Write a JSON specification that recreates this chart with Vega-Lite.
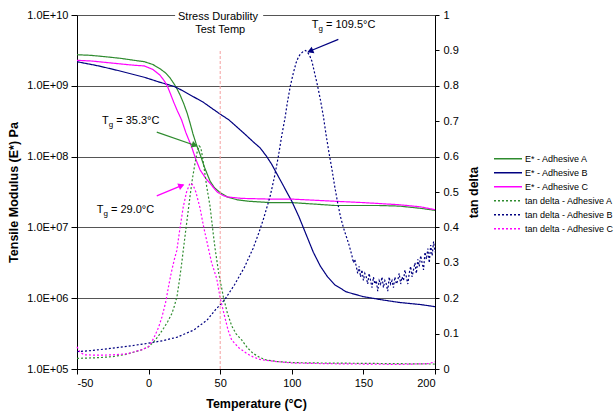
{
  "$schema": "https://vega.github.io/schema/vega-lite/v6.json",
  "width": 358,
  "height": 354,
  "autosize": "none",
  "padding": {"left": 77, "top": 15, "right": 181, "bottom": 46},
  "config": {
    "view": {"stroke": null},
    "font": "Liberation Sans",
    "axis": {"labelFontSize": 11, "titleFontSize": 12.5, "titleFontWeight": "bold", "labelColor": "#000", "titleColor": "#000", "domainColor": "#000", "tickColor": "#000", "grid": false, "labelOverlap": false},
    "text": {"fontSize": 11, "color": "#000"}
  },
  "datasets": {
    "emod": [
      {"series": "E* - Adhesive A", "temp": -50, "E": 2.75e9},
      {"series": "E* - Adhesive A", "temp": -40, "E": 2.69e9},
      {"series": "E* - Adhesive A", "temp": -30, "E": 2.57e9},
      {"series": "E* - Adhesive A", "temp": -20, "E": 2.45e9},
      {"series": "E* - Adhesive A", "temp": -10, "E": 2.29e9},
      {"series": "E* - Adhesive A", "temp": -3, "E": 2.19e9},
      {"series": "E* - Adhesive A", "temp": 3, "E": 2.0e9},
      {"series": "E* - Adhesive A", "temp": 8, "E": 1.74e9},
      {"series": "E* - Adhesive A", "temp": 12, "E": 1.51e9},
      {"series": "E* - Adhesive A", "temp": 15, "E": 1.29e9},
      {"series": "E* - Adhesive A", "temp": 18, "E": 1.05e9},
      {"series": "E* - Adhesive A", "temp": 20, "E": 8.91e8},
      {"series": "E* - Adhesive A", "temp": 22, "E": 7.41e8},
      {"series": "E* - Adhesive A", "temp": 24.5, "E": 5.62e8},
      {"series": "E* - Adhesive A", "temp": 27, "E": 4.07e8},
      {"series": "E* - Adhesive A", "temp": 29, "E": 2.95e8},
      {"series": "E* - Adhesive A", "temp": 31, "E": 2.09e8},
      {"series": "E* - Adhesive A", "temp": 33.5, "E": 1.45e8},
      {"series": "E* - Adhesive A", "temp": 36, "E": 1.07e8},
      {"series": "E* - Adhesive A", "temp": 39, "E": 7.08e7},
      {"series": "E* - Adhesive A", "temp": 43, "E": 4.47e7},
      {"series": "E* - Adhesive A", "temp": 46, "E": 3.63e7},
      {"series": "E* - Adhesive A", "temp": 50, "E": 3.09e7},
      {"series": "E* - Adhesive A", "temp": 55, "E": 2.69e7},
      {"series": "E* - Adhesive A", "temp": 62, "E": 2.45e7},
      {"series": "E* - Adhesive A", "temp": 70, "E": 2.34e7},
      {"series": "E* - Adhesive A", "temp": 85, "E": 2.24e7},
      {"series": "E* - Adhesive A", "temp": 100, "E": 2.24e7},
      {"series": "E* - Adhesive A", "temp": 115, "E": 2.14e7},
      {"series": "E* - Adhesive A", "temp": 130, "E": 2.04e7},
      {"series": "E* - Adhesive A", "temp": 145, "E": 2.04e7},
      {"series": "E* - Adhesive A", "temp": 160, "E": 2.04e7},
      {"series": "E* - Adhesive A", "temp": 175, "E": 2.0e7},
      {"series": "E* - Adhesive A", "temp": 190, "E": 1.86e7},
      {"series": "E* - Adhesive A", "temp": 200, "E": 1.74e7},
      {"series": "E* - Adhesive B", "temp": -50, "E": 2.19e9},
      {"series": "E* - Adhesive B", "temp": -35, "E": 1.91e9},
      {"series": "E* - Adhesive B", "temp": -20, "E": 1.62e9},
      {"series": "E* - Adhesive B", "temp": -3, "E": 1.32e9},
      {"series": "E* - Adhesive B", "temp": 8, "E": 1.12e9},
      {"series": "E* - Adhesive B", "temp": 18, "E": 9.77e8},
      {"series": "E* - Adhesive B", "temp": 22, "E": 8.91e8},
      {"series": "E* - Adhesive B", "temp": 30, "E": 7.24e8},
      {"series": "E* - Adhesive B", "temp": 38, "E": 5.89e8},
      {"series": "E* - Adhesive B", "temp": 45, "E": 4.68e8},
      {"series": "E* - Adhesive B", "temp": 50, "E": 3.98e8},
      {"series": "E* - Adhesive B", "temp": 56, "E": 3.31e8},
      {"series": "E* - Adhesive B", "temp": 66, "E": 2.19e8},
      {"series": "E* - Adhesive B", "temp": 73, "E": 1.62e8},
      {"series": "E* - Adhesive B", "temp": 78, "E": 1.32e8},
      {"series": "E* - Adhesive B", "temp": 82.5, "E": 1.0e8},
      {"series": "E* - Adhesive B", "temp": 86, "E": 7.76e7},
      {"series": "E* - Adhesive B", "temp": 89.5, "E": 5.75e7},
      {"series": "E* - Adhesive B", "temp": 93, "E": 4.27e7},
      {"series": "E* - Adhesive B", "temp": 97, "E": 3.02e7},
      {"series": "E* - Adhesive B", "temp": 100, "E": 2.34e7},
      {"series": "E* - Adhesive B", "temp": 105, "E": 1.41e7},
      {"series": "E* - Adhesive B", "temp": 110, "E": 7.94e6},
      {"series": "E* - Adhesive B", "temp": 115, "E": 4.47e6},
      {"series": "E* - Adhesive B", "temp": 120, "E": 2.82e6},
      {"series": "E* - Adhesive B", "temp": 125, "E": 2.0e6},
      {"series": "E* - Adhesive B", "temp": 130, "E": 1.55e6},
      {"series": "E* - Adhesive B", "temp": 138, "E": 1.23e6},
      {"series": "E* - Adhesive B", "temp": 150, "E": 1.05e6},
      {"series": "E* - Adhesive B", "temp": 162, "E": 9.55e5},
      {"series": "E* - Adhesive B", "temp": 175, "E": 8.71e5},
      {"series": "E* - Adhesive B", "temp": 190, "E": 8.13e5},
      {"series": "E* - Adhesive B", "temp": 200, "E": 7.59e5},
      {"series": "E* - Adhesive C", "temp": -50, "E": 2.29e9},
      {"series": "E* - Adhesive C", "temp": -40, "E": 2.24e9},
      {"series": "E* - Adhesive C", "temp": -30, "E": 2.14e9},
      {"series": "E* - Adhesive C", "temp": -20, "E": 2.04e9},
      {"series": "E* - Adhesive C", "temp": -10, "E": 1.95e9},
      {"series": "E* - Adhesive C", "temp": -3, "E": 1.91e9},
      {"series": "E* - Adhesive C", "temp": 3, "E": 1.70e9},
      {"series": "E* - Adhesive C", "temp": 8, "E": 1.41e9},
      {"series": "E* - Adhesive C", "temp": 11, "E": 1.17e9},
      {"series": "E* - Adhesive C", "temp": 13, "E": 1.0e9},
      {"series": "E* - Adhesive C", "temp": 15.2, "E": 7.76e8},
      {"series": "E* - Adhesive C", "temp": 17.5, "E": 5.89e8},
      {"series": "E* - Adhesive C", "temp": 20, "E": 4.47e8},
      {"series": "E* - Adhesive C", "temp": 23, "E": 3.31e8},
      {"series": "E* - Adhesive C", "temp": 26, "E": 2.19e8},
      {"series": "E* - Adhesive C", "temp": 30, "E": 1.38e8},
      {"series": "E* - Adhesive C", "temp": 33, "E": 9.12e7},
      {"series": "E* - Adhesive C", "temp": 36, "E": 6.46e7},
      {"series": "E* - Adhesive C", "temp": 40, "E": 4.90e7},
      {"series": "E* - Adhesive C", "temp": 45, "E": 3.72e7},
      {"series": "E* - Adhesive C", "temp": 48, "E": 3.16e7},
      {"series": "E* - Adhesive C", "temp": 52, "E": 2.82e7},
      {"series": "E* - Adhesive C", "temp": 55, "E": 2.69e7},
      {"series": "E* - Adhesive C", "temp": 65, "E": 2.57e7},
      {"series": "E* - Adhesive C", "temp": 85, "E": 2.51e7},
      {"series": "E* - Adhesive C", "temp": 100, "E": 2.51e7},
      {"series": "E* - Adhesive C", "temp": 130, "E": 2.34e7},
      {"series": "E* - Adhesive C", "temp": 150, "E": 2.24e7},
      {"series": "E* - Adhesive C", "temp": 175, "E": 2.09e7},
      {"series": "E* - Adhesive C", "temp": 190, "E": 1.95e7},
      {"series": "E* - Adhesive C", "temp": 200, "E": 1.78e7}
    ],
    "tand": [
      {"series": "tan delta  - Adhesive A", "temp": -50, "tan": 0.030},
      {"series": "tan delta  - Adhesive A", "temp": -35, "tan": 0.032},
      {"series": "tan delta  - Adhesive A", "temp": -25, "tan": 0.035},
      {"series": "tan delta  - Adhesive A", "temp": -15, "tan": 0.042},
      {"series": "tan delta  - Adhesive A", "temp": -5, "tan": 0.054},
      {"series": "tan delta  - Adhesive A", "temp": 0, "tan": 0.063},
      {"series": "tan delta  - Adhesive A", "temp": 3.6, "tan": 0.077},
      {"series": "tan delta  - Adhesive A", "temp": 7, "tan": 0.094},
      {"series": "tan delta  - Adhesive A", "temp": 10.5, "tan": 0.115},
      {"series": "tan delta  - Adhesive A", "temp": 13.5, "tan": 0.135},
      {"series": "tan delta  - Adhesive A", "temp": 16.3, "tan": 0.157},
      {"series": "tan delta  - Adhesive A", "temp": 18, "tan": 0.178},
      {"series": "tan delta  - Adhesive A", "temp": 19.8, "tan": 0.204},
      {"series": "tan delta  - Adhesive A", "temp": 21.5, "tan": 0.25},
      {"series": "tan delta  - Adhesive A", "temp": 23, "tan": 0.295},
      {"series": "tan delta  - Adhesive A", "temp": 24.5, "tan": 0.345},
      {"series": "tan delta  - Adhesive A", "temp": 26.5, "tan": 0.41},
      {"series": "tan delta  - Adhesive A", "temp": 28.9, "tan": 0.487},
      {"series": "tan delta  - Adhesive A", "temp": 30.5, "tan": 0.535},
      {"series": "tan delta  - Adhesive A", "temp": 32.4, "tan": 0.581},
      {"series": "tan delta  - Adhesive A", "temp": 34, "tan": 0.615},
      {"series": "tan delta  - Adhesive A", "temp": 35.3, "tan": 0.63},
      {"series": "tan delta  - Adhesive A", "temp": 36.5, "tan": 0.625},
      {"series": "tan delta  - Adhesive A", "temp": 38, "tan": 0.59},
      {"series": "tan delta  - Adhesive A", "temp": 40.6, "tan": 0.515},
      {"series": "tan delta  - Adhesive A", "temp": 42.9, "tan": 0.46},
      {"series": "tan delta  - Adhesive A", "temp": 45.2, "tan": 0.38},
      {"series": "tan delta  - Adhesive A", "temp": 46.4, "tan": 0.341},
      {"series": "tan delta  - Adhesive A", "temp": 49, "tan": 0.27},
      {"series": "tan delta  - Adhesive A", "temp": 52.2, "tan": 0.204},
      {"series": "tan delta  - Adhesive A", "temp": 55, "tan": 0.158},
      {"series": "tan delta  - Adhesive A", "temp": 58, "tan": 0.122},
      {"series": "tan delta  - Adhesive A", "temp": 61, "tan": 0.1},
      {"series": "tan delta  - Adhesive A", "temp": 65, "tan": 0.082},
      {"series": "tan delta  - Adhesive A", "temp": 69, "tan": 0.06},
      {"series": "tan delta  - Adhesive A", "temp": 73, "tan": 0.044},
      {"series": "tan delta  - Adhesive A", "temp": 78, "tan": 0.032},
      {"series": "tan delta  - Adhesive A", "temp": 82.5, "tan": 0.025},
      {"series": "tan delta  - Adhesive A", "temp": 90, "tan": 0.021},
      {"series": "tan delta  - Adhesive A", "temp": 101, "tan": 0.018},
      {"series": "tan delta  - Adhesive A", "temp": 120, "tan": 0.017},
      {"series": "tan delta  - Adhesive A", "temp": 150, "tan": 0.016},
      {"series": "tan delta  - Adhesive A", "temp": 175, "tan": 0.015},
      {"series": "tan delta  - Adhesive A", "temp": 200, "tan": 0.014},
      {"series": "tan delta - Adhesive B", "temp": -50, "tan": 0.049},
      {"series": "tan delta - Adhesive B", "temp": -40, "tan": 0.052},
      {"series": "tan delta - Adhesive B", "temp": -27, "tan": 0.058},
      {"series": "tan delta - Adhesive B", "temp": -15, "tan": 0.064},
      {"series": "tan delta - Adhesive B", "temp": -3, "tan": 0.071},
      {"series": "tan delta - Adhesive B", "temp": 10, "tan": 0.08},
      {"series": "tan delta - Adhesive B", "temp": 20, "tan": 0.09},
      {"series": "tan delta - Adhesive B", "temp": 31.5, "tan": 0.11},
      {"series": "tan delta - Adhesive B", "temp": 40.8, "tan": 0.138},
      {"series": "tan delta - Adhesive B", "temp": 46.6, "tan": 0.167},
      {"series": "tan delta - Adhesive B", "temp": 53, "tan": 0.195},
      {"series": "tan delta - Adhesive B", "temp": 60, "tan": 0.238},
      {"series": "tan delta - Adhesive B", "temp": 67, "tan": 0.288},
      {"series": "tan delta - Adhesive B", "temp": 73, "tan": 0.341},
      {"series": "tan delta - Adhesive B", "temp": 77, "tan": 0.385},
      {"series": "tan delta - Adhesive B", "temp": 80, "tan": 0.421},
      {"series": "tan delta - Adhesive B", "temp": 82.5, "tan": 0.455},
      {"series": "tan delta - Adhesive B", "temp": 85, "tan": 0.49},
      {"series": "tan delta - Adhesive B", "temp": 88, "tan": 0.545},
      {"series": "tan delta - Adhesive B", "temp": 90.6, "tan": 0.60},
      {"series": "tan delta - Adhesive B", "temp": 93, "tan": 0.66},
      {"series": "tan delta - Adhesive B", "temp": 95.3, "tan": 0.71},
      {"series": "tan delta - Adhesive B", "temp": 97, "tan": 0.755},
      {"series": "tan delta - Adhesive B", "temp": 99, "tan": 0.80},
      {"series": "tan delta - Adhesive B", "temp": 101, "tan": 0.835},
      {"series": "tan delta - Adhesive B", "temp": 103, "tan": 0.865},
      {"series": "tan delta - Adhesive B", "temp": 104.5, "tan": 0.88},
      {"series": "tan delta - Adhesive B", "temp": 106, "tan": 0.89},
      {"series": "tan delta - Adhesive B", "temp": 108, "tan": 0.897},
      {"series": "tan delta - Adhesive B", "temp": 109.5, "tan": 0.90},
      {"series": "tan delta - Adhesive B", "temp": 111, "tan": 0.895},
      {"series": "tan delta - Adhesive B", "temp": 112.5, "tan": 0.885},
      {"series": "tan delta - Adhesive B", "temp": 114, "tan": 0.87},
      {"series": "tan delta - Adhesive B", "temp": 116, "tan": 0.835},
      {"series": "tan delta - Adhesive B", "temp": 118, "tan": 0.80},
      {"series": "tan delta - Adhesive B", "temp": 120, "tan": 0.76},
      {"series": "tan delta - Adhesive B", "temp": 122, "tan": 0.715},
      {"series": "tan delta - Adhesive B", "temp": 124, "tan": 0.66},
      {"series": "tan delta - Adhesive B", "temp": 126, "tan": 0.61},
      {"series": "tan delta - Adhesive B", "temp": 128, "tan": 0.565},
      {"series": "tan delta - Adhesive B", "temp": 130, "tan": 0.515},
      {"series": "tan delta - Adhesive B", "temp": 132, "tan": 0.47},
      {"series": "tan delta - Adhesive B", "temp": 134, "tan": 0.43},
      {"series": "tan delta - Adhesive B", "temp": 136, "tan": 0.40},
      {"series": "tan delta - Adhesive B", "temp": 138, "tan": 0.375},
      {"series": "tan delta - Adhesive B", "temp": 140, "tan": 0.35},
      {"series": "tan delta - Adhesive B", "temp": 142, "tan": 0.32},
      {"series": "tan delta - Adhesive B", "temp": 143, "tan": 0.30},
      {"series": "tan delta - Adhesive B", "temp": 144, "tan": 0.31},
      {"series": "tan delta - Adhesive B", "temp": 145, "tan": 0.29},
      {"series": "tan delta - Adhesive B", "temp": 146, "tan": 0.27},
      {"series": "tan delta - Adhesive B", "temp": 147, "tan": 0.29},
      {"series": "tan delta - Adhesive B", "temp": 148, "tan": 0.26},
      {"series": "tan delta - Adhesive B", "temp": 149, "tan": 0.28},
      {"series": "tan delta - Adhesive B", "temp": 150, "tan": 0.25},
      {"series": "tan delta - Adhesive B", "temp": 151, "tan": 0.27},
      {"series": "tan delta - Adhesive B", "temp": 152, "tan": 0.26},
      {"series": "tan delta - Adhesive B", "temp": 153, "tan": 0.24},
      {"series": "tan delta - Adhesive B", "temp": 154, "tan": 0.27},
      {"series": "tan delta - Adhesive B", "temp": 155, "tan": 0.25},
      {"series": "tan delta - Adhesive B", "temp": 156, "tan": 0.23},
      {"series": "tan delta - Adhesive B", "temp": 157, "tan": 0.26},
      {"series": "tan delta - Adhesive B", "temp": 158, "tan": 0.24},
      {"series": "tan delta - Adhesive B", "temp": 159, "tan": 0.25},
      {"series": "tan delta - Adhesive B", "temp": 160, "tan": 0.22},
      {"series": "tan delta - Adhesive B", "temp": 161, "tan": 0.25},
      {"series": "tan delta - Adhesive B", "temp": 162, "tan": 0.24},
      {"series": "tan delta - Adhesive B", "temp": 163, "tan": 0.26},
      {"series": "tan delta - Adhesive B", "temp": 164, "tan": 0.23},
      {"series": "tan delta - Adhesive B", "temp": 165, "tan": 0.25},
      {"series": "tan delta - Adhesive B", "temp": 166, "tan": 0.24},
      {"series": "tan delta - Adhesive B", "temp": 167, "tan": 0.22},
      {"series": "tan delta - Adhesive B", "temp": 168, "tan": 0.26},
      {"series": "tan delta - Adhesive B", "temp": 169, "tan": 0.24},
      {"series": "tan delta - Adhesive B", "temp": 170, "tan": 0.25},
      {"series": "tan delta - Adhesive B", "temp": 171, "tan": 0.23},
      {"series": "tan delta - Adhesive B", "temp": 172, "tan": 0.26},
      {"series": "tan delta - Adhesive B", "temp": 173, "tan": 0.24},
      {"series": "tan delta - Adhesive B", "temp": 174, "tan": 0.25},
      {"series": "tan delta - Adhesive B", "temp": 175, "tan": 0.27},
      {"series": "tan delta - Adhesive B", "temp": 176, "tan": 0.24},
      {"series": "tan delta - Adhesive B", "temp": 177, "tan": 0.26},
      {"series": "tan delta - Adhesive B", "temp": 178, "tan": 0.25},
      {"series": "tan delta - Adhesive B", "temp": 179, "tan": 0.28},
      {"series": "tan delta - Adhesive B", "temp": 180, "tan": 0.26},
      {"series": "tan delta - Adhesive B", "temp": 181, "tan": 0.24},
      {"series": "tan delta - Adhesive B", "temp": 182, "tan": 0.27},
      {"series": "tan delta - Adhesive B", "temp": 183, "tan": 0.29},
      {"series": "tan delta - Adhesive B", "temp": 184, "tan": 0.26},
      {"series": "tan delta - Adhesive B", "temp": 185, "tan": 0.28},
      {"series": "tan delta - Adhesive B", "temp": 186, "tan": 0.30},
      {"series": "tan delta - Adhesive B", "temp": 187, "tan": 0.27},
      {"series": "tan delta - Adhesive B", "temp": 188, "tan": 0.31},
      {"series": "tan delta - Adhesive B", "temp": 189, "tan": 0.29},
      {"series": "tan delta - Adhesive B", "temp": 190, "tan": 0.32},
      {"series": "tan delta - Adhesive B", "temp": 191, "tan": 0.30},
      {"series": "tan delta - Adhesive B", "temp": 192, "tan": 0.28},
      {"series": "tan delta - Adhesive B", "temp": 193, "tan": 0.33},
      {"series": "tan delta - Adhesive B", "temp": 194, "tan": 0.31},
      {"series": "tan delta - Adhesive B", "temp": 195, "tan": 0.34},
      {"series": "tan delta - Adhesive B", "temp": 196, "tan": 0.30},
      {"series": "tan delta - Adhesive B", "temp": 197, "tan": 0.35},
      {"series": "tan delta - Adhesive B", "temp": 198, "tan": 0.32},
      {"series": "tan delta - Adhesive B", "temp": 199, "tan": 0.36},
      {"series": "tan delta - Adhesive B", "temp": 200, "tan": 0.33},
      {"series": "tan delta - Adhesive C", "temp": -50, "tan": 0.063},
      {"series": "tan delta - Adhesive C", "temp": -48, "tan": 0.048},
      {"series": "tan delta - Adhesive C", "temp": -45, "tan": 0.040},
      {"series": "tan delta - Adhesive C", "temp": -35, "tan": 0.039},
      {"series": "tan delta - Adhesive C", "temp": -25, "tan": 0.040},
      {"series": "tan delta - Adhesive C", "temp": -15, "tan": 0.043},
      {"series": "tan delta - Adhesive C", "temp": -5, "tan": 0.054},
      {"series": "tan delta - Adhesive C", "temp": 0, "tan": 0.063},
      {"series": "tan delta - Adhesive C", "temp": 3.6, "tan": 0.087},
      {"series": "tan delta - Adhesive C", "temp": 7, "tan": 0.118},
      {"series": "tan delta - Adhesive C", "temp": 9.4, "tan": 0.148},
      {"series": "tan delta - Adhesive C", "temp": 12, "tan": 0.19},
      {"series": "tan delta - Adhesive C", "temp": 14, "tan": 0.235},
      {"series": "tan delta - Adhesive C", "temp": 16, "tan": 0.275},
      {"series": "tan delta - Adhesive C", "temp": 18, "tan": 0.31},
      {"series": "tan delta - Adhesive C", "temp": 19.7, "tan": 0.335},
      {"series": "tan delta - Adhesive C", "temp": 22, "tan": 0.40},
      {"series": "tan delta - Adhesive C", "temp": 24.2, "tan": 0.458},
      {"series": "tan delta - Adhesive C", "temp": 26.5, "tan": 0.50},
      {"series": "tan delta - Adhesive C", "temp": 28.9, "tan": 0.525},
      {"series": "tan delta - Adhesive C", "temp": 31, "tan": 0.52},
      {"series": "tan delta - Adhesive C", "temp": 33, "tan": 0.50},
      {"series": "tan delta - Adhesive C", "temp": 35.9, "tan": 0.455},
      {"series": "tan delta - Adhesive C", "temp": 38.5, "tan": 0.40},
      {"series": "tan delta - Adhesive C", "temp": 41, "tan": 0.355},
      {"series": "tan delta - Adhesive C", "temp": 44, "tan": 0.30},
      {"series": "tan delta - Adhesive C", "temp": 47.6, "tan": 0.255},
      {"series": "tan delta - Adhesive C", "temp": 50, "tan": 0.20},
      {"series": "tan delta - Adhesive C", "temp": 53, "tan": 0.15},
      {"series": "tan delta - Adhesive C", "temp": 55.5, "tan": 0.11},
      {"series": "tan delta - Adhesive C", "temp": 58, "tan": 0.082},
      {"series": "tan delta - Adhesive C", "temp": 63, "tan": 0.06},
      {"series": "tan delta - Adhesive C", "temp": 68.5, "tan": 0.044},
      {"series": "tan delta - Adhesive C", "temp": 73, "tan": 0.034},
      {"series": "tan delta - Adhesive C", "temp": 77.8, "tan": 0.027},
      {"series": "tan delta - Adhesive C", "temp": 89.5, "tan": 0.021},
      {"series": "tan delta - Adhesive C", "temp": 100, "tan": 0.017},
      {"series": "tan delta - Adhesive C", "temp": 125, "tan": 0.015},
      {"series": "tan delta - Adhesive C", "temp": 150, "tan": 0.014},
      {"series": "tan delta - Adhesive C", "temp": 175, "tan": 0.013},
      {"series": "tan delta - Adhesive C", "temp": 195, "tan": 0.015},
      {"series": "tan delta - Adhesive C", "temp": 200, "tan": 0.02}
    ],
    "stress": [
      {"label": "Stress Durability", "temp": 48.5, "tan": 0.994},
      {"label": "Test Temp", "temp": 50, "tan": 0.958}
    ],
    "testline": [{"temp": 50, "tan": 0, "tan2": 0.9}],
    "mask": [{"temp": 18.5, "temp2": 80, "tan": 0.97, "tan2": 1.02}],
    "tg": [
      {"series": "tan delta - Adhesive B", "label": "= 109.5°C", "temp": 121.8, "tan": 0.972},
      {"series": "tan delta  - Adhesive A", "label": "= 35.3°C", "temp": -24.7, "tan": 0.701},
      {"series": "tan delta - Adhesive C", "label": "= 29.0°C", "temp": -28.4, "tan": 0.45}
    ],
    "arrows": [
      {"series": "tan delta - Adhesive B", "temp": 132.5, "tan": 0.931, "temp2": 111.5, "tan2": 0.896},
      {"series": "tan delta  - Adhesive A", "temp": 5.7, "tan": 0.669, "temp2": 33.6, "tan2": 0.630},
      {"series": "tan delta - Adhesive C", "temp": 5.7, "tan": 0.489, "temp2": 24.2, "tan2": 0.520}
    ],
    "heads": [
      {"series": "tan delta - Adhesive B", "temp": 113.5, "tan": 0.899},
      {"series": "tan delta  - Adhesive A", "temp": 31.6, "tan": 0.633},
      {"series": "tan delta - Adhesive C", "temp": 22.3, "tan": 0.517}
    ]
  },
  "layer": [
    {
      "data": {"name": "emod"},
      "mark": {"type": "line", "strokeWidth": 1.2},
      "encoding": {
        "x": {"field": "temp", "type": "quantitative", "scale": {"domain": [-50, 200], "nice": false, "zero": false},
              "axis": {"values": [-50, 0, 50, 100, 150, 200], "labelExpr": "'' + datum.value", "title": "Temperature (°C)", "tickSize": 5, "labelPadding": 3, "titlePadding": 9}},
        "y": {"field": "E", "type": "quantitative", "scale": {"type": "log", "domain": [100000, 10000000000], "nice": false},
              "axis": {"orient": "left", "values": [100000, 1000000, 10000000, 100000000, 1000000000, 10000000000],
                       "labelExpr": "'1.0E+' + (datum.value >= 1e10 ? '10' : '0' + round(log(datum.value) / LN10))",
                       "grid": true, "gridColor": "#555555", "title": "Tensile Modulus (E*) Pa", "tickSize": 6, "labelPadding": 3, "titlePadding": 6}},
        "color": {"field": "series", "type": "nominal",
                  "scale": {"domain": ["E* - Adhesive A", "E* - Adhesive B", "E* - Adhesive C", "tan delta  - Adhesive A", "tan delta - Adhesive B", "tan delta - Adhesive C"],
                            "range": ["#2e8b2e", "#000080", "#ff00ff", "#2e8b2e", "#000080", "#ff00ff"]},
                  "legend": {"title": null, "orient": "none", "legendX": 416, "legendY": 137, "padding": 0, "symbolType": "stroke", "symbolSize": 784, "symbolStrokeWidth": 1.5, "labelFontSize": 9, "labelColor": "#000", "labelOffset": 2, "rowPadding": 0, "clipHeight": 13.4}},
        "strokeDash": {"field": "series", "type": "nominal",
                       "scale": {"domain": ["E* - Adhesive A", "E* - Adhesive B", "E* - Adhesive C", "tan delta  - Adhesive A", "tan delta - Adhesive B", "tan delta - Adhesive C"],
                                 "range": [[1, 0], [1, 0], [1, 0], [2, 2], [2, 2], [2, 2]]},
                       "legend": {"title": null, "orient": "none", "legendX": 416, "legendY": 137, "padding": 0, "symbolType": "stroke", "symbolSize": 784, "symbolStrokeWidth": 1.5, "labelFontSize": 9, "labelColor": "#000", "labelOffset": 2, "rowPadding": 0, "clipHeight": 13.4}}
      }
    },
    {
      "layer": [
        {
          "data": {"name": "tand"},
          "mark": {"type": "line", "strokeWidth": 1.2},
          "encoding": {
            "x": {"field": "temp", "type": "quantitative", "title": "Temperature (°C)"},
            "y": {"field": "tan", "type": "quantitative", "scale": {"domain": [0, 1], "nice": false},
                  "axis": {"orient": "right", "values": [0, 0.1, 0.2, 0.3, 0.4, 0.5, 0.6, 0.7, 0.8, 0.9, 1], "labelExpr": "datum.value == 0 ? '0' : datum.value == 1 ? '1' : format(datum.value, '.1f')", "title": "tan delta", "titleAngle": 270, "tickSize": 4, "labelPadding": 4, "titlePadding": 22, "labelOverlap": false}},
            "color": {"field": "series", "type": "nominal"},
            "strokeDash": {"field": "series", "type": "nominal"}
          }
        },
        {
          "data": {"name": "testline"},
          "mark": {"type": "rule", "color": "#f4a0a0", "strokeDash": [3, 2], "strokeWidth": 1},
          "encoding": {
            "x": {"field": "temp", "type": "quantitative", "title": "Temperature (°C)"},
            "y": {"field": "tan", "type": "quantitative", "scale": {"domain": [0, 1], "nice": false},
                  "axis": {"orient": "right", "values": [0, 0.1, 0.2, 0.3, 0.4, 0.5, 0.6, 0.7, 0.8, 0.9, 1], "labelExpr": "datum.value == 0 ? '0' : datum.value == 1 ? '1' : format(datum.value, '.1f')", "title": "tan delta", "titleAngle": 270, "tickSize": 4, "labelPadding": 4, "titlePadding": 22, "labelOverlap": false}},
            "y2": {"field": "tan2"}
          }
        },
        {
          "data": {"name": "mask"},
          "mark": {"type": "rect", "color": "#ffffff"},
          "encoding": {
            "x": {"field": "temp", "type": "quantitative", "title": "Temperature (°C)"},
            "x2": {"field": "temp2"},
            "y": {"field": "tan", "type": "quantitative", "scale": {"domain": [0, 1], "nice": false},
                  "axis": {"orient": "right", "values": [0, 0.1, 0.2, 0.3, 0.4, 0.5, 0.6, 0.7, 0.8, 0.9, 1], "labelExpr": "datum.value == 0 ? '0' : datum.value == 1 ? '1' : format(datum.value, '.1f')", "title": "tan delta", "titleAngle": 270, "tickSize": 4, "labelPadding": 4, "titlePadding": 22, "labelOverlap": false}},
            "y2": {"field": "tan2"}
          }
        },
        {
          "data": {"name": "stress"},
          "mark": {"type": "text", "fontSize": 11, "align": "center", "baseline": "middle"},
          "encoding": {
            "x": {"field": "temp", "type": "quantitative", "title": "Temperature (°C)"},
            "y": {"field": "tan", "type": "quantitative", "scale": {"domain": [0, 1], "nice": false},
                  "axis": {"orient": "right", "values": [0, 0.1, 0.2, 0.3, 0.4, 0.5, 0.6, 0.7, 0.8, 0.9, 1], "labelExpr": "datum.value == 0 ? '0' : datum.value == 1 ? '1' : format(datum.value, '.1f')", "title": "tan delta", "titleAngle": 270, "tickSize": 4, "labelPadding": 4, "titlePadding": 22, "labelOverlap": false}},
            "text": {"field": "label"}
          }
        },
        {
          "data": {"name": "arrows"},
          "mark": {"type": "rule", "strokeWidth": 1.2},
          "encoding": {
            "x": {"field": "temp", "type": "quantitative", "title": "Temperature (°C)"},
            "x2": {"field": "temp2"},
            "y": {"field": "tan", "type": "quantitative", "scale": {"domain": [0, 1], "nice": false},
                  "axis": {"orient": "right", "values": [0, 0.1, 0.2, 0.3, 0.4, 0.5, 0.6, 0.7, 0.8, 0.9, 1], "labelExpr": "datum.value == 0 ? '0' : datum.value == 1 ? '1' : format(datum.value, '.1f')", "title": "tan delta", "titleAngle": 270, "tickSize": 4, "labelPadding": 4, "titlePadding": 22, "labelOverlap": false}},
            "y2": {"field": "tan2"},
            "color": {"field": "series", "type": "nominal", "legend": null}
          }
        },
        {
          "data": {"name": "heads"},
          "transform": [{"filter": "datum.series == 'tan delta - Adhesive B'"}],
          "mark": {"type": "point", "shape": "triangle", "filled": true, "size": 50, "angle": 247.5, "color": "#000080", "opacity": 1},
          "encoding": {
            "x": {"field": "temp", "type": "quantitative", "title": "Temperature (°C)"},
            "y": {"field": "tan", "type": "quantitative", "scale": {"domain": [0, 1], "nice": false},
                  "axis": {"orient": "right", "values": [0, 0.1, 0.2, 0.3, 0.4, 0.5, 0.6, 0.7, 0.8, 0.9, 1], "labelExpr": "datum.value == 0 ? '0' : datum.value == 1 ? '1' : format(datum.value, '.1f')", "title": "tan delta", "titleAngle": 270, "tickSize": 4, "labelPadding": 4, "titlePadding": 22, "labelOverlap": false}}
          }
        },
        {
          "data": {"name": "heads"},
          "transform": [{"filter": "datum.series == 'tan delta  - Adhesive A'"}],
          "mark": {"type": "point", "shape": "triangle", "filled": true, "size": 50, "angle": 108.9, "color": "#2e8b2e", "opacity": 1},
          "encoding": {
            "x": {"field": "temp", "type": "quantitative", "title": "Temperature (°C)"},
            "y": {"field": "tan", "type": "quantitative", "scale": {"domain": [0, 1], "nice": false},
                  "axis": {"orient": "right", "values": [0, 0.1, 0.2, 0.3, 0.4, 0.5, 0.6, 0.7, 0.8, 0.9, 1], "labelExpr": "datum.value == 0 ? '0' : datum.value == 1 ? '1' : format(datum.value, '.1f')", "title": "tan delta", "titleAngle": 270, "tickSize": 4, "labelPadding": 4, "titlePadding": 22, "labelOverlap": false}}
          }
        },
        {
          "data": {"name": "heads"},
          "transform": [{"filter": "datum.series == 'tan delta - Adhesive C'"}],
          "mark": {"type": "point", "shape": "triangle", "filled": true, "size": 50, "angle": 67.5, "color": "#ff00ff", "opacity": 1},
          "encoding": {
            "x": {"field": "temp", "type": "quantitative", "title": "Temperature (°C)"},
            "y": {"field": "tan", "type": "quantitative", "scale": {"domain": [0, 1], "nice": false},
                  "axis": {"orient": "right", "values": [0, 0.1, 0.2, 0.3, 0.4, 0.5, 0.6, 0.7, 0.8, 0.9, 1], "labelExpr": "datum.value == 0 ? '0' : datum.value == 1 ? '1' : format(datum.value, '.1f')", "title": "tan delta", "titleAngle": 270, "tickSize": 4, "labelPadding": 4, "titlePadding": 22, "labelOverlap": false}}
          }
        },
        {
          "data": {"name": "tg"},
          "mark": {"type": "text", "text": "T", "fontSize": 11, "align": "right", "baseline": "middle", "dx": -4.5},
          "encoding": {
            "x": {"field": "temp", "type": "quantitative", "title": "Temperature (°C)"},
            "y": {"field": "tan", "type": "quantitative", "scale": {"domain": [0, 1], "nice": false},
                  "axis": {"orient": "right", "values": [0, 0.1, 0.2, 0.3, 0.4, 0.5, 0.6, 0.7, 0.8, 0.9, 1], "labelExpr": "datum.value == 0 ? '0' : datum.value == 1 ? '1' : format(datum.value, '.1f')", "title": "tan delta", "titleAngle": 270, "tickSize": 4, "labelPadding": 4, "titlePadding": 22, "labelOverlap": false}}
          }
        },
        {
          "data": {"name": "tg"},
          "mark": {"type": "text", "text": "g", "fontSize": 8, "align": "right", "baseline": "middle", "dy": 4},
          "encoding": {
            "x": {"field": "temp", "type": "quantitative", "title": "Temperature (°C)"},
            "y": {"field": "tan", "type": "quantitative", "scale": {"domain": [0, 1], "nice": false},
                  "axis": {"orient": "right", "values": [0, 0.1, 0.2, 0.3, 0.4, 0.5, 0.6, 0.7, 0.8, 0.9, 1], "labelExpr": "datum.value == 0 ? '0' : datum.value == 1 ? '1' : format(datum.value, '.1f')", "title": "tan delta", "titleAngle": 270, "tickSize": 4, "labelPadding": 4, "titlePadding": 22, "labelOverlap": false}}
          }
        },
        {
          "data": {"name": "tg"},
          "mark": {"type": "text", "fontSize": 11, "align": "left", "baseline": "middle", "dx": 3},
          "encoding": {
            "x": {"field": "temp", "type": "quantitative", "title": "Temperature (°C)"},
            "y": {"field": "tan", "type": "quantitative", "scale": {"domain": [0, 1], "nice": false},
                  "axis": {"orient": "right", "values": [0, 0.1, 0.2, 0.3, 0.4, 0.5, 0.6, 0.7, 0.8, 0.9, 1], "labelExpr": "datum.value == 0 ? '0' : datum.value == 1 ? '1' : format(datum.value, '.1f')", "title": "tan delta", "titleAngle": 270, "tickSize": 4, "labelPadding": 4, "titlePadding": 22, "labelOverlap": false}},
            "text": {"field": "label"}
          }
        }
      ]
    }
  ],
  "resolve": {"scale": {"y": "independent"}}
}
